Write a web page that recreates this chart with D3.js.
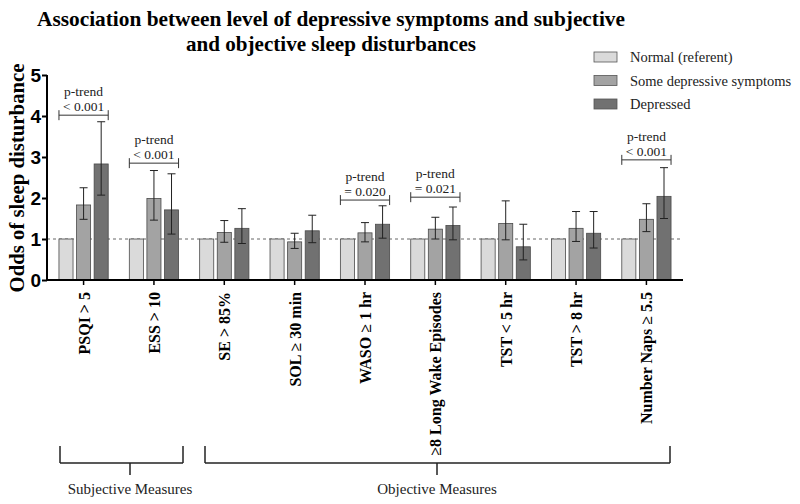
<!DOCTYPE html>
<meta charset="utf-8">
<style>
  body { margin: 0; background: #fff; }
  text { font-family: "Liberation Serif", "Times New Roman", serif; }
</style>
<body>
<div id="chart"></div>
<script src="https://d3js.org/d3.v7.min.js"></script>
<script>

// Data ----------------
var categories = ["PSQI > 5", "ESS > 10", "SE > 85%", "SOL \u2265 30 min", "WASO \u2265 1 hr",
  "\u22658 Long Wake Episodes", "TST < 5 hr", "TST > 8 hr", "Number Naps \u2265 5.5"];
var groups = ["Normal (referent)", "Some depressive symptoms", "Depressed"];

var normalVals = [1, 1, 1, 1, 1, 1, 1, 1, 1];
var someVals   = [1.83, 1.99, 1.16, 0.93, 1.15, 1.24, 1.38, 1.26, 1.48];
var someLo     = [1.48, 1.46, 0.92, 0.77, 0.93, 1.00, 0.98, 0.94, 1.18];
var someHi     = [2.25, 2.67, 1.45, 1.14, 1.40, 1.53, 1.93, 1.67, 1.86];
var depVals    = [2.83, 1.71, 1.26, 1.20, 1.36, 1.33, 0.81, 1.14, 2.04];
var depLo      = [2.07, 1.12, 0.89, 0.91, 1.02, 0.98, 0.49, 0.78, 1.50];
var depHi      = [3.86, 2.59, 1.74, 1.58, 1.81, 1.78, 1.36, 1.67, 2.74];

var trendCats  = ["PSQI > 5", "ESS > 10", "WASO \u2265 1 hr", "\u22658 Long Wake Episodes", "Number Naps \u2265 5.5"];
var trendText  = ["< 0.001", "< 0.001", "= 0.020", "= 0.021", "< 0.001"];
var trendLevel = [4.02, 2.85, 1.95, 2.02, 2.93];

var yTicks = [0, 1, 2, 3, 4, 5];
var colors = ["#dadada", "#a3a3a3", "#717171"];

// Layout ----------------
var W = 800, H = 504;
var svg = d3.select("#chart").append("svg")
    .attr("width", W).attr("height", H);

var x0 = d3.scaleBand().domain(categories).range([47, 683]).paddingInner(0.3).paddingOuter(0.17);
var x1 = d3.scaleBand().domain(groups).range([0, x0.bandwidth()]).paddingInner(0.2);
var y = d3.scaleLinear().domain([0, 5]).range([280, 75]);

// title
svg.append("text")
    .attr("x", 331).attr("y", 26)
    .attr("text-anchor", "middle")
    .style("font-size", "21px").style("font-weight", "bold")
    .attr("textLength", 588).attr("lengthAdjust", "spacingAndGlyphs")
    .text("Association between level of depressive symptoms and subjective");
svg.append("text")
    .attr("x", 331).attr("y", 51)
    .attr("text-anchor", "middle")
    .style("font-size", "21px").style("font-weight", "bold")
    .attr("textLength", 290).attr("lengthAdjust", "spacingAndGlyphs")
    .text("and objective sleep disturbances");

// y axis label
svg.append("text")
    .attr("transform", "translate(24,178) rotate(-90)")
    .attr("text-anchor", "middle")
    .style("font-size", "22px").style("font-weight", "bold")
    .attr("textLength", 229).attr("lengthAdjust", "spacingAndGlyphs")
    .text("Odds of sleep disturbance");

// reference line
svg.append("line")
    .attr("x1", 47).attr("x2", 683)
    .attr("y1", y(1)).attr("y2", y(1))
    .attr("stroke", "#666").attr("stroke-width", 1)
    .attr("stroke-dasharray", "3,3");

// bars
var rows = categories.map(function(c, i) {
  return {cat: c, vals: [
    {g: groups[0], v: normalVals[i]},
    {g: groups[1], v: someVals[i], lo: someLo[i], hi: someHi[i]},
    {g: groups[2], v: depVals[i], lo: depLo[i], hi: depHi[i]}
  ]};
});

var gCat = svg.selectAll(".cat")
  .data(rows)
  .enter().append("g")
    .attr("class", "cat")
    .attr("transform", function(d) { return "translate(" + x0(d.cat) + ",0)"; });

gCat.selectAll("rect")
  .data(function(d) { return d.vals; })
  .enter().append("rect")
    .attr("x", function(d) { return x1(d.g); })
    .attr("y", function(d) { return y(d.v); })
    .attr("width", x1.bandwidth())
    .attr("height", function(d) { return y(0) - y(d.v); })
    .attr("fill", function(d, i) { return colors[i]; })
    .attr("stroke", "#4a4a4a").attr("stroke-width", 0.8);

// error bars
var errs = gCat.selectAll(".err")
  .data(function(d) { return d.vals.filter(function(v) { return v.lo != null; }); })
  .enter().append("g").attr("class", "err")
    .attr("stroke", "#222").attr("stroke-width", 1);
errs.append("line")
    .attr("x1", function(d) { return x1(d.g) + x1.bandwidth() / 2; })
    .attr("x2", function(d) { return x1(d.g) + x1.bandwidth() / 2; })
    .attr("y1", function(d) { return y(d.lo); })
    .attr("y2", function(d) { return y(d.hi); });
errs.append("line")
    .attr("x1", function(d) { return x1(d.g) + x1.bandwidth() / 2 - 4; })
    .attr("x2", function(d) { return x1(d.g) + x1.bandwidth() / 2 + 4; })
    .attr("y1", function(d) { return y(d.hi); })
    .attr("y2", function(d) { return y(d.hi); });
errs.append("line")
    .attr("x1", function(d) { return x1(d.g) + x1.bandwidth() / 2 - 4; })
    .attr("x2", function(d) { return x1(d.g) + x1.bandwidth() / 2 + 4; })
    .attr("y1", function(d) { return y(d.lo); })
    .attr("y2", function(d) { return y(d.lo); });

// p-trend brackets
trendCats.forEach(function(c, i) {
  var xa = x0(c), xb = x0(c) + x0.bandwidth(), yy = y(trendLevel[i]);
  var g = svg.append("g").attr("stroke", "#333").attr("stroke-width", 1);
  g.append("line").attr("x1", xa).attr("x2", xb).attr("y1", yy).attr("y2", yy);
  g.append("line").attr("x1", xa).attr("x2", xa).attr("y1", yy - 5).attr("y2", yy + 5);
  g.append("line").attr("x1", xb).attr("x2", xb).attr("y1", yy - 5).attr("y2", yy + 5);
  svg.append("text").attr("x", (xa + xb) / 2).attr("y", yy - 19)
    .attr("text-anchor", "middle").style("font-size", "13.5px").attr("fill", "#222")
    .text("p-trend");
  svg.append("text").attr("x", (xa + xb) / 2).attr("y", yy - 4)
    .attr("text-anchor", "middle").style("font-size", "13.5px").attr("fill", "#222")
    .text(trendText[i]);
});

// axes
var yAxis = svg.append("g")
    .attr("transform", "translate(47,0)")
    .call(d3.axisLeft(y).tickValues(yTicks).tickSize(5).tickFormat(d3.format("d")));
yAxis.select(".domain").attr("stroke", "#000").attr("stroke-width", 2)
    .attr("d", "M0," + y(5) + "V" + y(0));
yAxis.selectAll(".tick line").attr("stroke", "#000").attr("stroke-width", 2);
yAxis.selectAll(".tick text")
    .style("font-family", "'Liberation Sans', Arial, sans-serif")
    .style("font-size", "19px").style("font-weight", "bold").attr("x", -6).attr("fill", "#000");

var xAxis = svg.append("g")
    .attr("transform", "translate(0," + y(0) + ")")
    .call(d3.axisBottom(x0).tickSize(5).tickFormat(""));
xAxis.select(".domain").attr("stroke", "#000").attr("stroke-width", 2)
    .attr("d", "M47,0H683");
xAxis.selectAll(".tick line").attr("stroke", "#000").attr("stroke-width", 1.5);

// category labels
svg.selectAll(".catlab")
  .data(categories)
  .enter().append("text")
    .attr("class", "catlab")
    .attr("transform", function(d) { return "translate(" + (x0(d) + x0.bandwidth() / 2 + 6) + ",292) rotate(-90)"; })
    .attr("text-anchor", "end")
    .style("font-size", "16px").style("font-weight", "bold")
    .text(function(d) { return d; });

// bottom brackets
var brackets = [
  {label: "Subjective Measures", x1: 60, x2: 183, mid: 130},
  {label: "Objective Measures", x1: 205, x2: 670, mid: 437}
];
brackets.forEach(function(b) {
  var g = svg.append("g").attr("stroke", "#222").attr("stroke-width", 1.5);
  g.append("line").attr("x1", b.x1).attr("x2", b.x2).attr("y1", 463).attr("y2", 463);
  g.append("line").attr("x1", b.x1).attr("x2", b.x1).attr("y1", 446).attr("y2", 463);
  g.append("line").attr("x1", b.x2).attr("x2", b.x2).attr("y1", 446).attr("y2", 463);
  g.append("line").attr("x1", b.mid).attr("x2", b.mid).attr("y1", 463).attr("y2", 475);
  svg.append("text").attr("x", b.mid).attr("y", 494)
    .attr("text-anchor", "middle").style("font-size", "15px").attr("fill", "#222")
    .text(b.label);
});

// legend
var leg = svg.selectAll(".leg")
  .data(groups)
  .enter().append("g")
    .attr("class", "leg")
    .attr("transform", function(d, i) { return "translate(594," + (57 + i * 23.5) + ")"; });
leg.append("rect")
    .attr("x", 0).attr("y", -5).attr("width", 23).attr("height", 10)
    .attr("fill", function(d, i) { return colors[i]; })
    .attr("stroke", "#555").attr("stroke-width", 0.8);
leg.append("text")
    .attr("x", 36).attr("y", 5)
    .style("font-size", "14.5px").attr("fill", "#222")
    .text(function(d) { return d; });

</script>
</body>
